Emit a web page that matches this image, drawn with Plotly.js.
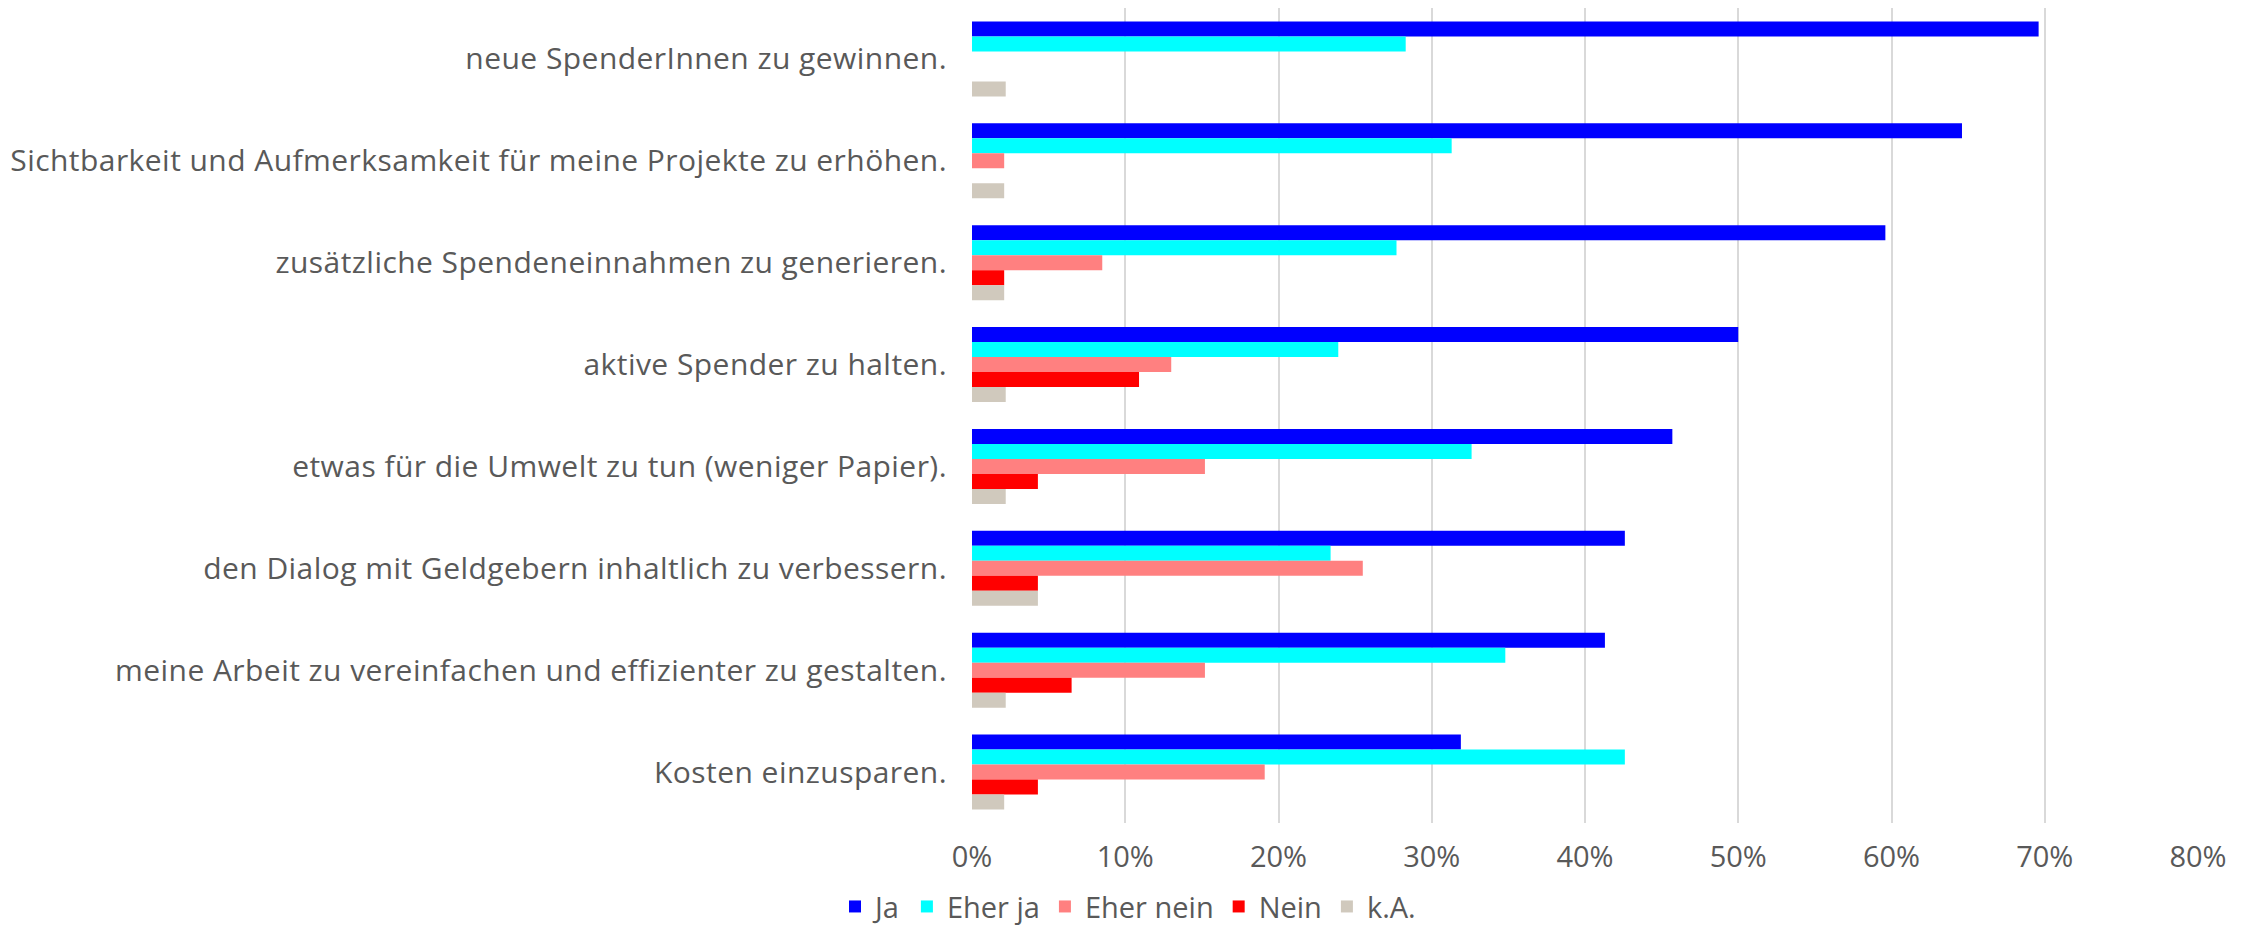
<!DOCTYPE html>
<html>
<head>
<meta charset="utf-8">
<script src="https://cdn.plot.ly/plotly-3.0.1.min.js"></script>
<style>
html,body{margin:0;padding:0;background:#fff;}
#chart{width:2256px;height:927px;}
#chart .ytick text{letter-spacing:0.45px;}
</style>
</head>
<body>
<div id="chart"></div>
<script>
const categories = [
  "neue SpenderInnen zu gewinnen.",
  "Sichtbarkeit und Aufmerksamkeit für meine Projekte zu erhöhen.",
  "zusätzliche Spendeneinnahmen zu generieren.",
  "aktive Spender zu halten.",
  "etwas für die Umwelt zu tun (weniger Papier).",
  "den Dialog mit Geldgebern inhaltlich zu verbessern.",
  "meine Arbeit zu vereinfachen und effizienter zu gestalten.",
  "Kosten einzusparen."
];
const seriesNames = ["Ja", "Eher ja", "Eher nein", "Nein", "k.A."];
const ja       = [69.6, 64.6, 59.6, 50.0, 45.7, 42.6, 41.3, 31.9];
const eherJa   = [28.3, 31.3, 27.7, 23.9, 32.6, 23.4, 34.8, 42.6];
const eherNein = [0,    2.1,  8.5,  13.0, 15.2, 25.5, 15.2, 19.1];
const nein     = [0,    0,    2.1,  10.9, 4.3,  4.3,  6.5,  4.3];
const ka       = [2.2,  2.1,  2.1,  2.2,  2.2,  4.3,  2.2,  2.1];
const tickValues = [0, 10, 20, 30, 40, 50, 60, 70, 80];

const colors = ["#0000FF", "#00FFFF", "#FF8080", "#FF0000", "#D0C9BD"];
const allSeries = [ja, eherJa, eherNein, nein, ka];

const FONT = "'Open Sans', Lato, sans-serif";
const TXT = "#595959";

const traces = allSeries.map((vals, i) => ({
  type: "bar",
  orientation: "h",
  name: seriesNames[i],
  x: vals,
  y: categories,
  marker: {color: colors[i], line: {width: 0}},
  hoverinfo: "skip"
}));

const layout = {
  width: 2256,
  height: 927,
  margin: {l: 972, r: 58, t: 8, b: 104, pad: 0},
  paper_bgcolor: "#ffffff",
  plot_bgcolor: "#ffffff",
  barmode: "group",
  bargap: 0.265,
  bargroupgap: 0,
  font: {family: FONT, size: 29, color: TXT},
  xaxis: {
    range: [0, 80],
    tickvals: tickValues,
    ticktext: tickValues.map(v => v + "%"),
    showgrid: true,
    gridcolor: "#D9D9D9",
    gridwidth: 2,
    zeroline: false,
    showline: false,
    ticks: "",
    ticklabelstandoff: 14,
    tickfont: {family: FONT, size: 29, color: TXT},
    fixedrange: true
  },
  yaxis: {
    type: "category",
    autorange: "reversed",
    showgrid: false,
    zeroline: false,
    showline: false,
    ticks: "",
    ticklabelstandoff: 24,
    tickfont: {family: FONT, size: 30, color: TXT},
    fixedrange: true
  },
  showlegend: true,
  legend: {
    orientation: "h",
    xref: "container",
    yref: "container",
    x: 0.5,
    xanchor: "center",
    y: 0.022,
    yanchor: "middle",
    font: {family: FONT, size: 29, color: TXT},
    itemwidth: 30,
    traceorder: "normal",
    bgcolor: "rgba(0,0,0,0)"
  }
};

Plotly.newPlot("chart", traces, layout, {displayModeBar: false, staticPlot: true});
</script>
</body>
</html>
